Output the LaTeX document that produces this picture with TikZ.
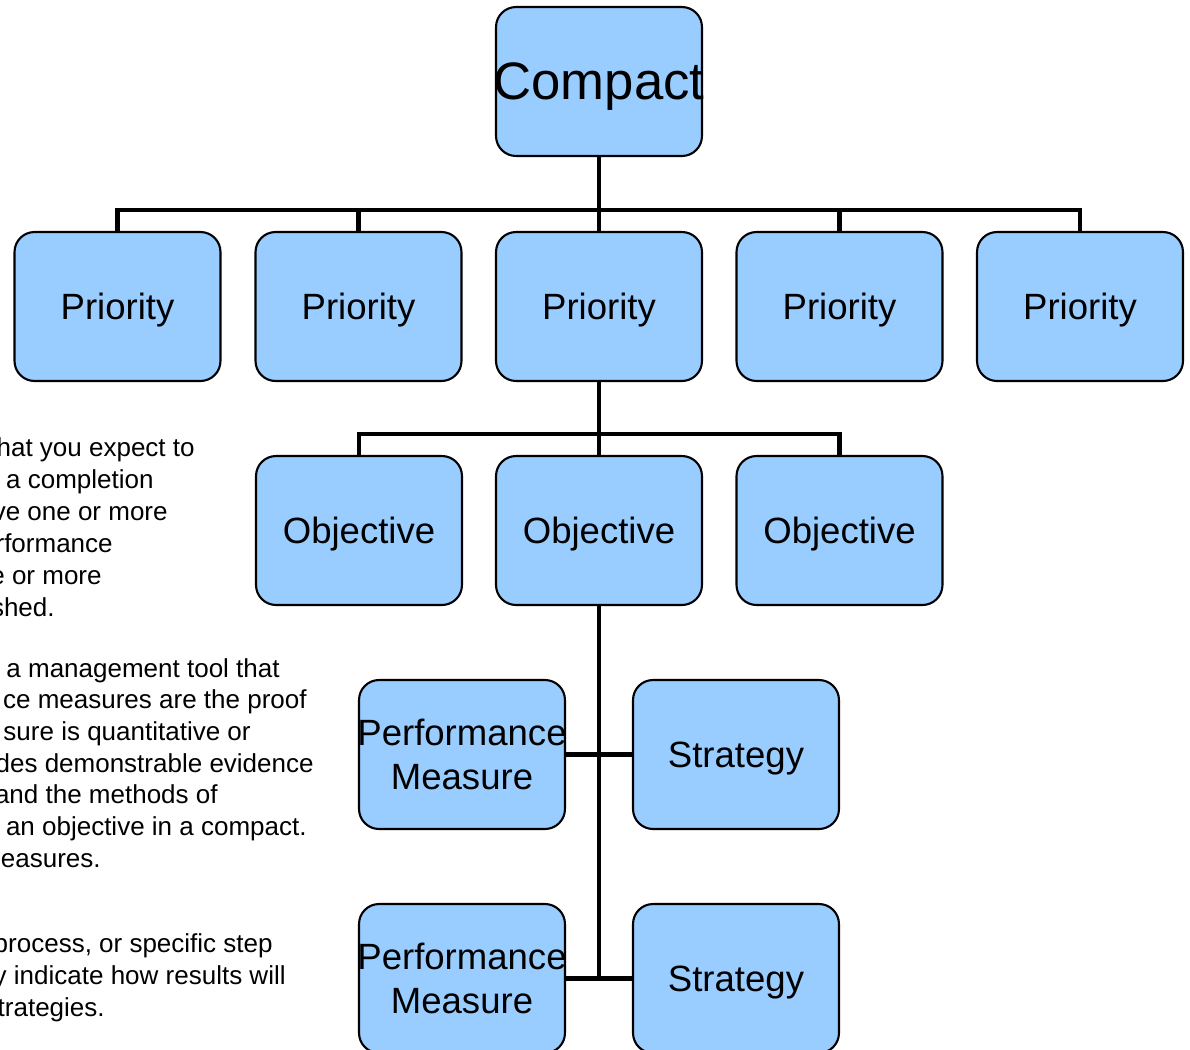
\documentclass[tikz,border=0pt]{standalone}
\usepackage{fontspec}
\setmainfont{Liberation Sans}
\usetikzlibrary{positioning}
\definecolor{boxblue}{RGB}{153,204,255}

\begin{document}
\begin{tikzpicture}[x=0.02cm, y=-0.02cm,
  box/.style={draw, line width=1.2pt, rectangle, rounded corners=0.4cm,
    fill=boxblue, minimum width=4.12cm, minimum height=2.98cm,
    align=center, inner ysep=0pt, inner xsep=-2pt, text depth=0pt,
    font=\fontsize{20.8}{25}\selectfont},
  bus/.style={line width=2.3pt},
  note/.style={anchor=base east, inner sep=0pt, font=\fontsize{14.8}{18}\selectfont}]

\useasboundingbox (0,0) rectangle (1190,1049);

% ----------------------
% Tree of boxes
% ----------------------
\node[box, font=\fontsize{30}{36}\selectfont] (compact) at (599,81.5) {Compact};

\node[box] (pri1) at (117.5,306.5) {Priority};
\node[box] (pri2) at (358.5,306.5) {Priority};
\node[box] (pri3) at (599,306.5) {Priority};
\node[box] (pri4) at (839.5,306.5) {Priority};
\node[box] (pri5) at (1080,306.5) {Priority};

\node[box] (obj1) at (359,530.5) {Objective};
\node[box] (obj2) at (599,530.5) {Objective};
\node[box] (obj3) at (839.5,530.5) {Objective};

\node[box] (pm1) at (462,754.5) {Performance\\Measure};
\node[box] (str1) at (736,754.5) {Strategy};
\node[box] (pm2) at (462,978.5) {Performance\\Measure};
\node[box] (str2) at (736,978.5) {Strategy};

% ----------------------
% Connectors
% ----------------------
\coordinate (pbus) at (599,210);
\coordinate (obus) at (599,434);

\foreach \n in {pri1,pri2,pri3,pri4,pri5}
  \draw[bus] (compact.south) |- (pbus -| \n.north) -- (\n.north);
\foreach \n in {obj1,obj2,obj3}
  \draw[bus] (pri3.south) |- (obus -| \n.north) -- (\n.north);

\draw[bus] (obj2.south) -- (obj2.south |- pm2.east);
\draw[bus] (pm1.east) -- (str1.west);
\draw[bus] (pm2.east) -- (str2.west);

% ----------------------
% Notes on the left (cut by the page edge)
% ----------------------
\foreach [count=\i] \ex/\by/\txt in {
    195/456/{hat you expect to},
    154/488/{a completion},
    168/520/{ve one or more},
    113/552/{rformance},
    102/584/{e or more},
    55/616/{shed.},
    280/677/{a management tool that},
    307/708.7/{ce measures are the proof},
    251/740.4/{sure is quantitative or},
    314/772.1/{des demonstrable evidence},
    218/803.8/{and the methods of},
    307/835.5/{an objective in a compact.},
    101/867.2/{easures.},
    273/952/{process, or specific step},
    286/984/{y indicate how results will},
    105/1016/{trategies.}}
  \node[note] (note\i) at (\ex,\by) {\txt};

\end{tikzpicture}
\end{document}
